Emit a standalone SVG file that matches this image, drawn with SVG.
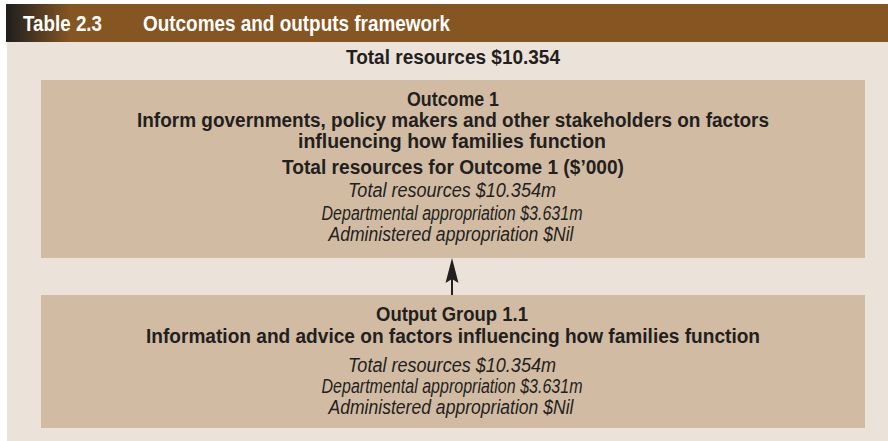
<svg xmlns="http://www.w3.org/2000/svg" width="888" height="441" viewBox="0 0 888 441">
<defs>
<linearGradient id="hdr" x1="6" y1="0" x2="70" y2="0" gradientUnits="userSpaceOnUse">
<stop offset="0" stop-color="#1e1e1e"/>
<stop offset="1" stop-color="#855522"/>
</linearGradient>
<style>
.b{font-family:"Liberation Sans",Arial,sans-serif;font-weight:bold;font-size:20px;fill:#231f20;text-anchor:middle}
.i{font-family:"Liberation Sans",Arial,sans-serif;font-style:italic;font-size:19.5px;fill:#231f20;text-anchor:middle}
.h{font-family:"Liberation Sans",Arial,sans-serif;font-weight:bold;font-size:22px;fill:#ffffff}
.box{fill:#d1bca3}
</style>
</defs>
<rect x="7" y="42" width="881" height="399" fill="#ebe3da"/>
<rect x="6" y="4" width="882" height="38" fill="url(#hdr)"/>
<text class="h" x="23" y="31" textLength="79" lengthAdjust="spacingAndGlyphs">Table 2.3</text>
<text class="h" x="143" y="31" textLength="307" lengthAdjust="spacingAndGlyphs">Outcomes and outputs framework</text>
<text class="b" x="453" y="64" textLength="214" lengthAdjust="spacingAndGlyphs">Total resources $10.354</text>
<g id="outcome1">
<rect class="box" x="41" y="80" width="824" height="178"/>
<text class="b" x="453" y="106" textLength="92" lengthAdjust="spacingAndGlyphs">Outcome 1</text>
<text class="b" x="453" y="127" textLength="632" lengthAdjust="spacingAndGlyphs">Inform governments, policy makers and other stakeholders on factors</text>
<text class="b" x="452" y="148" textLength="308" lengthAdjust="spacingAndGlyphs">influencing how families function</text>
<text class="b" x="453" y="174" textLength="342" lengthAdjust="spacingAndGlyphs">Total resources for Outcome 1 ($’000)</text>
<text class="i" x="452" y="197" textLength="208" lengthAdjust="spacingAndGlyphs">Total resources $10.354m</text>
<text class="i" x="452" y="220" textLength="261" lengthAdjust="spacingAndGlyphs">Departmental appropriation $3.631m</text>
<text class="i" x="451" y="241" textLength="245" lengthAdjust="spacingAndGlyphs">Administered appropriation $Nil</text>
</g>
<g id="output1-1">
<rect class="box" x="41" y="295" width="824" height="133"/>
<text class="b" x="452" y="321" textLength="152" lengthAdjust="spacingAndGlyphs">Output Group 1.1</text>
<text class="b" x="453" y="343" textLength="614" lengthAdjust="spacingAndGlyphs">Information and advice on factors influencing how families function</text>
<text class="i" x="452" y="372" textLength="208" lengthAdjust="spacingAndGlyphs">Total resources $10.354m</text>
<text class="i" x="452" y="393" textLength="261" lengthAdjust="spacingAndGlyphs">Departmental appropriation $3.631m</text>
<text class="i" x="451" y="414" textLength="245" lengthAdjust="spacingAndGlyphs">Administered appropriation $Nil</text>
</g>
<g id="connectors">
<line x1="452" y1="295" x2="452" y2="276" stroke="#231f20" stroke-width="2"/>
<path d="M452,258 L458.5,283 L452,279 L445.5,283 Z" fill="#231f20"/>
</g>
</svg>
